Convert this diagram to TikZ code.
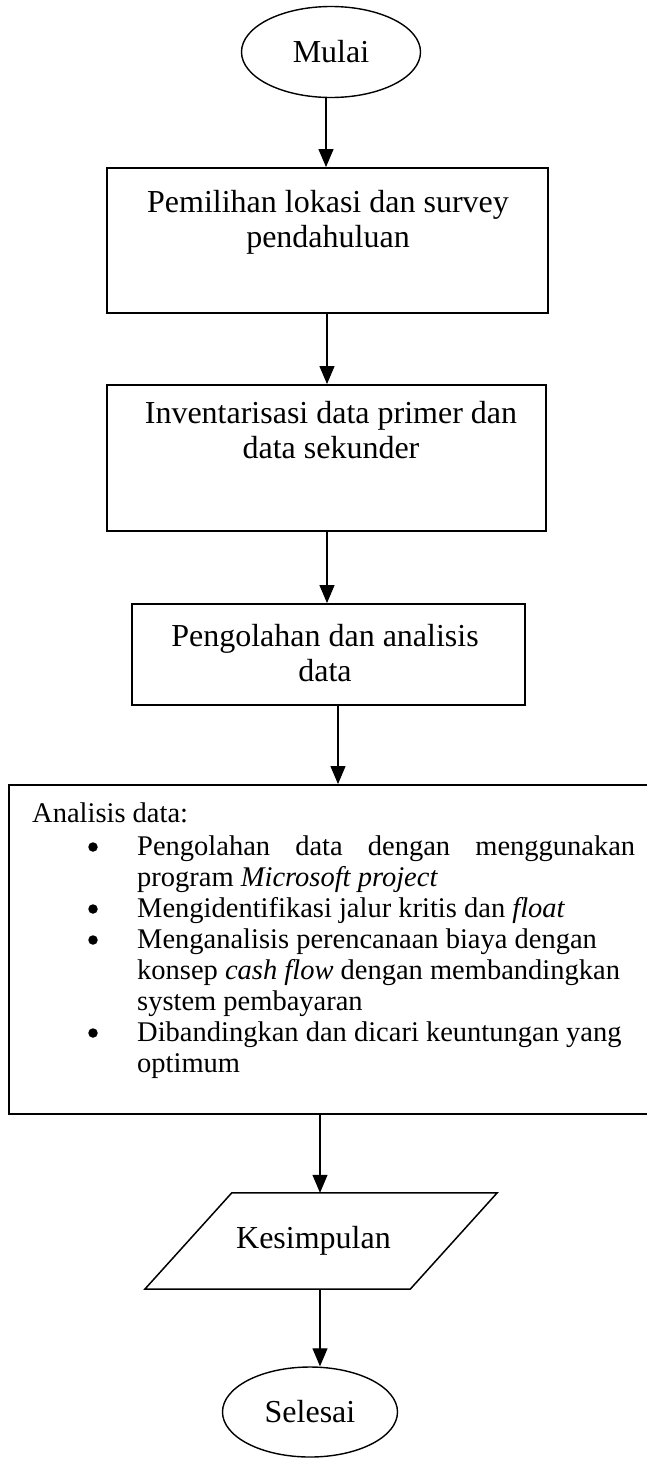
\documentclass[tikz,border=0pt]{standalone}
\usepackage{fontspec}
\setmainfont{Liberation Serif}
\usetikzlibrary{shapes.geometric,arrows.meta}
\newcommand\contitem{\hspace*{105pt}}
\begin{document}
\begin{tikzpicture}[x=1pt,y=-1pt,
  boxline/.style={draw=black, line width=1.5pt},
  term/.style={ellipse, draw=black, line width=1.4pt, minimum width=179pt, minimum height=91pt, inner sep=0pt, font=\fontsize{32}{35}\selectfont},
  procbox/.style={draw=black, line width=1.9pt, rectangle, inner sep=0pt},
  lbl/.style={inner sep=0pt, anchor=base},
  bulletdot/.style={circle, fill=black, inner sep=0pt, minimum size=9.5pt},
  arr/.style={line width=1.3pt, -{Triangle[length=18pt,width=15pt]}}]
\useasboundingbox (0,0) rectangle (647,1459);

\node[term] (mulai) at (331,52) {Mulai};

\node[procbox, minimum width=441pt, minimum height=145pt] (b1) at (327.5,240.5) {};
\node[lbl] (t1) at (328,212) {\parbox[t]{430pt}{\centering\fontsize{32}{35}\selectfont Pemilihan lokasi dan survey\\pendahuluan}};

\node[procbox, minimum width=439pt, minimum height=146pt] (b2) at (326.5,458) {};
\node[lbl] (t2) at (331,423) {\parbox[t]{430pt}{\centering\fontsize{32}{35}\selectfont Inventarisasi data primer dan\\data sekunder}};

\node[procbox, minimum width=393pt, minimum height=101pt] (b3) at (328.5,654.5) {};
\node[lbl] (t3) at (325,646) {\parbox[t]{380pt}{\centering\fontsize{32}{35}\selectfont Pengolahan dan analisis\\data}};

\node[procbox, minimum width=640pt, minimum height=329pt] (b4) at (329,949.5) {};
\node[inner sep=0pt, anchor=base west] (t4) at (32,822) {\parbox[t]{610pt}{\fontsize{28.5}{31}\selectfont\raggedright
Analisis data:\\[2pt]
\contitem\makebox[498pt][s]{Pengolahan data dengan menggunakan}\\
\contitem program \textit{Microsoft project}\\
\contitem Mengidentifikasi jalur kritis dan \textit{float}\\
\contitem Menganalisis perencanaan biaya dengan\\
\contitem konsep \textit{cash flow} dengan membandingkan\\
\contitem system pembayaran\\
\contitem Dibandingkan dan dicari keuntungan yang\\
\contitem optimum}};
\node[bulletdot] (d1) at (93,847) {};
\node[bulletdot] (d2) at (93,909) {};
\node[bulletdot] (d3) at (93,940) {};
\node[bulletdot] (d4) at (93,1033) {};

\node[inner sep=0pt, minimum width=265pt, minimum height=96pt] (kes) at (321,1241) {};
\draw[boxline] ([xshift=43.5pt]kes.north west) -- ([xshift=43.5pt]kes.north east) -- ([xshift=-43.5pt]kes.south east) -- ([xshift=-43.5pt]kes.south west) -- cycle;
\node[lbl, font=\fontsize{32}{35}\selectfont] (kest) at (313.5,1248) {Kesimpulan};

\node[term, minimum width=175pt, minimum height=90pt] (selesai) at (310,1412) {Selesai};

\coordinate (x1) at (326,0);
\coordinate (x2) at (327,0);
\coordinate (x4) at (338,0);
\coordinate (x5) at (320,0);

\draw[arr] (mulai.south -| x1) -- (b1.north -| x1);
\draw[arr] (b1.south -| x2) -- (b2.north -| x2);
\draw[arr] (b2.south -| x2) -- (b3.north -| x2);
\draw[arr] (b3.south -| x4) -- (b4.north -| x4);
\draw[arr] (b4.south -| x5) -- (kes.north -| x5);
\draw[arr] (kes.south -| x5) -- (selesai.north -| x5);
\end{tikzpicture}
\end{document}
